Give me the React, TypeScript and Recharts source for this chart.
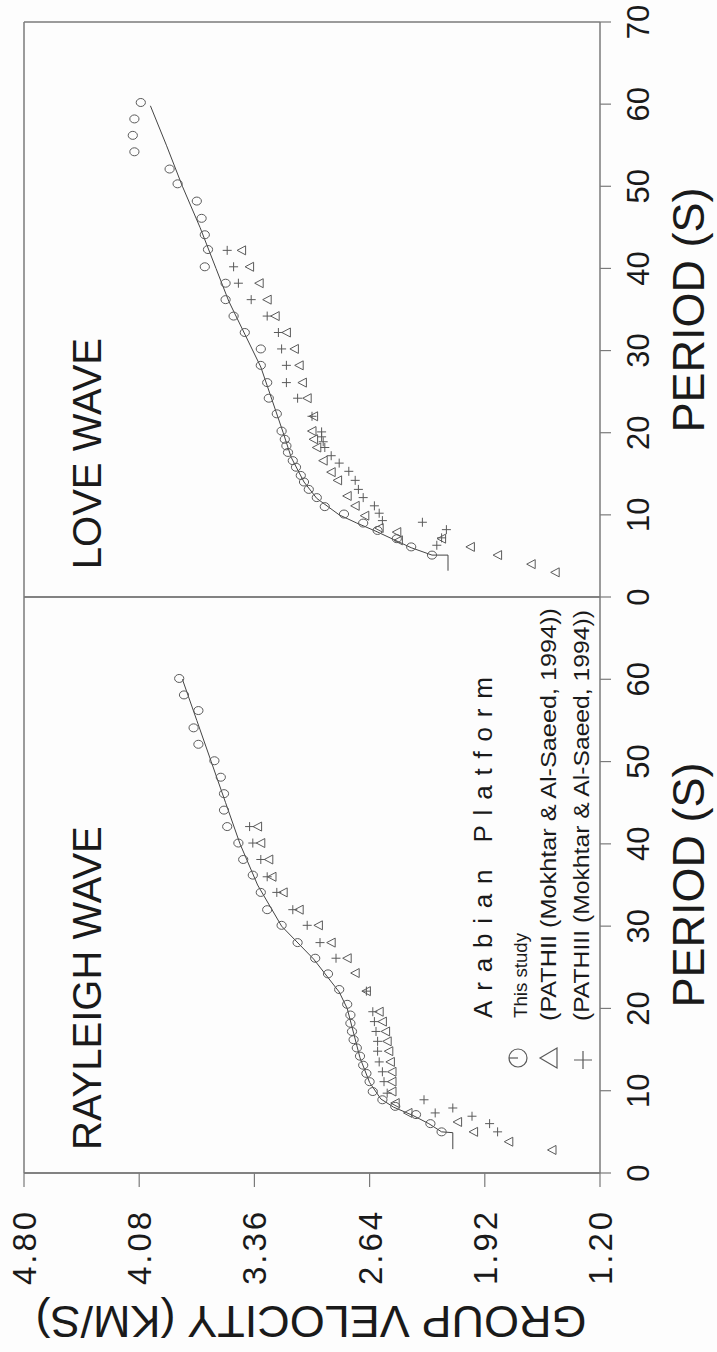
import React from 'react';
import { ScatterChart, Scatter, XAxis, YAxis, ReferenceLine } from 'recharts';

// [period (s), group velocity (km/s)]
const loveStudy: [number, number][] = [
  [60.2, 4.07], [58.2, 4.11], [56.2, 4.12], [54.2, 4.11], [52.1, 3.89], [50.3, 3.84],
  [48.2, 3.72], [46.1, 3.69], [44.1, 3.67], [42.3, 3.65], [40.2, 3.67], [38.2, 3.54],
  [36.2, 3.54], [34.2, 3.49], [32.2, 3.42], [30.2, 3.32], [28.2, 3.32], [26.1, 3.28],
  [24.2, 3.27], [22.3, 3.22], [20.2, 3.19], [19.2, 3.17], [18.4, 3.16], [17.6, 3.15],
  [16.6, 3.12], [15.8, 3.1], [14.8, 3.07], [14.0, 3.05], [13.1, 3.02], [12.1, 2.97],
  [11.0, 2.92], [10.1, 2.8], [9.0, 2.68], [8.1, 2.59], [7.1, 2.47], [6.1, 2.38], [5.1, 2.25],
];
const loveCurve: [number, number][] = [
  [59.8, 4.01], [55, 3.91], [50, 3.81], [45, 3.7], [40, 3.6], [36, 3.52], [32, 3.42],
  [28, 3.32], [24, 3.25], [20, 3.18], [17, 3.13], [14, 3.05], [12, 2.97], [10, 2.83],
  [9, 2.72], [8, 2.6], [7, 2.49], [6, 2.38], [5.1, 2.25], [5.1, 2.15], [3.2, 2.15],
];
const lovePath2: [number, number][] = [
  [42.2, 3.44], [40.2, 3.39], [38.2, 3.33], [36.2, 3.28], [34.2, 3.23], [32.2, 3.16],
  [30.2, 3.11], [28.2, 3.08], [26.1, 3.06], [24.2, 3.03], [22.0, 2.99], [20.2, 3.0],
  [19.2, 2.99], [18.2, 2.97], [16.6, 2.93], [15.2, 2.88], [14.2, 2.84], [12.3, 2.78],
  [11.1, 2.73], [9.9, 2.67], [8.4, 2.58], [7.9, 2.47], [6.9, 2.46], [7.1, 2.19],
  [6.1, 2.01], [5.1, 1.84], [4.0, 1.63], [3.0, 1.48],
];
const lovePath3: [number, number][] = [
  [42.2, 3.53], [40.2, 3.49], [38.2, 3.46], [36.2, 3.38], [34.2, 3.28], [32.2, 3.21],
  [30.2, 3.19], [28.2, 3.16], [26.1, 3.16], [24.2, 3.09], [22.0, 3.0], [20.1, 2.94],
  [19.5, 2.94], [18.9, 2.93], [18.2, 2.92], [17.2, 2.88], [16.3, 2.83], [15.3, 2.77],
  [14.2, 2.73], [13.1, 2.71], [12.1, 2.68], [11.1, 2.61], [10.2, 2.58], [9.3, 2.56],
  [9.1, 2.31], [8.2, 2.16], [7.2, 2.19], [6.3, 2.22],
];

const rayStudy: [number, number][] = [
  [60.1, 3.83], [58.1, 3.8], [56.2, 3.71], [54.1, 3.74], [52.1, 3.71], [50.1, 3.61],
  [48.1, 3.57], [46.1, 3.55], [44.1, 3.55], [42.1, 3.53], [40.1, 3.46], [38.1, 3.43],
  [36.2, 3.37], [34.1, 3.32], [32.0, 3.28], [30.1, 3.19], [28.0, 3.09], [26.1, 2.98],
  [24.2, 2.9], [22.3, 2.83], [20.5, 2.78], [19.2, 2.76], [18.2, 2.76], [17.2, 2.75],
  [16.2, 2.74], [15.2, 2.72], [14.2, 2.7], [13.1, 2.68], [12.1, 2.66], [11.1, 2.64],
  [9.9, 2.62], [8.9, 2.56], [8.1, 2.48], [7.1, 2.35], [6.0, 2.26], [5.0, 2.19],
];
const rayCurve: [number, number][] = [
  [60.0, 3.81], [55, 3.72], [50, 3.63], [45, 3.54], [40, 3.45], [35, 3.34], [30, 3.19],
  [26, 2.99], [22, 2.83], [20, 2.78], [17, 2.74], [14, 2.7], [11, 2.64], [9, 2.57],
  [8, 2.49], [7, 2.37], [6, 2.27], [5, 2.19], [4.9, 2.12], [2.9, 2.12],
];
const rayPath2: [number, number][] = [
  [42.1, 3.34], [40.1, 3.32], [38.1, 3.27], [36.0, 3.25], [34.1, 3.18], [32.0, 3.08],
  [30.1, 2.96], [28.0, 2.88], [26.1, 2.78], [24.3, 2.73], [22.1, 2.66], [19.6, 2.58],
  [18.4, 2.56], [17.2, 2.54], [16.0, 2.53], [14.8, 2.52], [13.5, 2.51], [12.3, 2.5],
  [11.1, 2.5], [9.9, 2.5], [8.5, 2.48], [7.3, 2.4], [6.2, 2.09], [5.0, 1.99],
  [3.8, 1.77], [2.8, 1.5],
];
const rayPath3: [number, number][] = [
  [42.1, 3.39], [40.1, 3.37], [38.1, 3.32], [36.0, 3.28], [34.1, 3.22], [32.0, 3.12],
  [30.1, 3.03], [28.0, 2.95], [26.1, 2.85], [22.1, 2.66], [19.6, 2.62], [18.4, 2.61],
  [17.2, 2.6], [16.0, 2.59], [14.8, 2.59], [13.5, 2.58], [12.3, 2.56], [11.1, 2.55],
  [9.7, 2.53], [8.9, 2.3], [7.9, 2.12], [7.3, 2.23], [6.9, 2.0], [6.0, 1.89], [5.0, 1.84],
];

const velocityTicks = [4.8, 4.08, 3.36, 2.64, 1.92, 1.2];
const lovePeriodTicks = [0, 10, 20, 30, 40, 50, 60, 70];
const rayPeriodTicks = [0, 10, 20, 30, 40, 50, 60];

const FONT = '"Liberation Sans", Arial, Helvetica, sans-serif';
const INK = '#1a1a1a';
const FRAME = '#7a7a7a';
const MARK = '#5a5a5a';

const toPts = (arr: [number, number][]) => arr.map(([p, v]) => ({ p, v }));

function Empty() {
  return <g />;
}

function CircleMark(props: any) {
  const { cx, cy } = props;
  if (cx == null || cy == null) return <g />;
  return <ellipse cx={cx} cy={cy} rx={4.6} ry={4} fill="none" stroke={MARK} strokeWidth={1} />;
}

function TriMark(props: any) {
  const { cx, cy } = props;
  if (cx == null || cy == null) return <g />;
  const pts = `${cx - 4.5},${cy} ${cx + 4},${cy - 4.5} ${cx + 4},${cy + 4.5}`;
  return <polygon points={pts} fill="none" stroke={MARK} strokeWidth={1} />;
}

function PlusMark(props: any) {
  const { cx, cy } = props;
  if (cx == null || cy == null) return <g />;
  return (
    <path
      d={`M${cx - 4.5},${cy}H${cx + 4.5}M${cx},${cy - 4.5}V${cy + 4.5}`}
      stroke={MARK}
      strokeWidth={1}
      fill="none"
    />
  );
}

function PeriodTick(props: any) {
  const { x, y, payload } = props;
  return (
    <text
      transform={`translate(${x + 38},${y}) rotate(-90)`}
      textAnchor="middle"
      fontFamily={FONT}
      fontSize={31}
      fill={INK}
    >
      {payload.value}
    </text>
  );
}

function VelocityTick(props: any) {
  const { x, y, payload } = props;
  return (
    <text
      transform={`translate(${x + 12},${y + 60}) rotate(-90)`}
      textAnchor="middle"
      fontFamily={FONT}
      fontSize={33}
      letterSpacing={3}
      fill={INK}
    >
      {Number(payload.value).toFixed(2)}
    </text>
  );
}

function Panel({
  study,
  curve,
  path2,
  path3,
  periodTicks,
  showVelocity,
  top,
  height,
  marginBottom,
}: {
  study: [number, number][];
  curve: [number, number][];
  path2: [number, number][];
  path3: [number, number][];
  periodTicks: number[];
  showVelocity: boolean;
  top: number;
  height: number;
  marginBottom: number;
}) {
  const frame = { stroke: FRAME, strokeWidth: 1.5 };
  return (
    <ScatterChart
      width={717}
      height={height}
      margin={{ top: 22, right: 0, bottom: marginBottom, left: 24 }}
      style={{ position: 'absolute', left: 0, top }}
    >
      <XAxis
        type="number"
        dataKey="v"
        domain={[1.2, 4.8]}
        reversed
        ticks={velocityTicks}
        interval={0}
        hide={!showVelocity}
        height={179}
        tickSize={14}
        tickMargin={0}
        tick={<VelocityTick />}
        axisLine={frame}
        tickLine={{ stroke: FRAME, strokeWidth: 1.2 }}
      />
      <YAxis
        type="number"
        dataKey="p"
        orientation="right"
        domain={[0, 70]}
        ticks={periodTicks}
        interval={0}
        width={117}
        tickSize={11}
        tickMargin={0}
        tick={<PeriodTick />}
        axisLine={frame}
        tickLine={{ stroke: FRAME, strokeWidth: 1.2 }}
      />
      <ReferenceLine x={4.8} {...frame} />
      <ReferenceLine y={70} {...frame} />
      <ReferenceLine y={0} {...frame} />
      <Scatter
        data={toPts(curve)}
        line={{ stroke: '#444', strokeWidth: 1 }}
        shape={<Empty />}
        isAnimationActive={false}
      />
      <Scatter data={toPts(study)} shape={<CircleMark />} isAnimationActive={false} />
      <Scatter data={toPts(path2)} shape={<TriMark />} isAnimationActive={false} />
      <Scatter data={toPts(path3)} shape={<PlusMark />} isAnimationActive={false} />
    </ScatterChart>
  );
}

export default function App() {
  const txt = { fontFamily: FONT, fill: INK };
  return (
    <div
      style={{
        position: 'absolute',
        left: 0,
        top: 0,
        width: 717,
        height: 1352,
        background: '#fdfdfd',
        overflow: 'hidden',
      }}
    >
      <Panel
        study={loveStudy}
        curve={loveCurve}
        path2={lovePath2}
        path3={lovePath3}
        periodTicks={lovePeriodTicks}
        showVelocity={false}
        top={0}
        height={620}
        marginBottom={23}
      />
      <Panel
        study={rayStudy}
        curve={rayCurve}
        path2={rayPath2}
        path3={rayPath3}
        periodTicks={rayPeriodTicks}
        showVelocity
        top={575}
        height={777}
        marginBottom={0}
      />
      <svg
        width={717}
        height={1352}
        style={{ position: 'absolute', left: 0, top: 0, pointerEvents: 'none' }}
      >
        <text transform="translate(101,338) rotate(-90)" textAnchor="end" fontSize={40} {...txt}>
          LOVE WAVE
        </text>
        <text transform="translate(101,1150) rotate(-90)" textAnchor="start" fontSize={40} {...txt}>
          RAYLEIGH WAVE
        </text>
        <text transform="translate(704,310) rotate(-90)" textAnchor="middle" fontSize={45} {...txt}>
          PERIOD (S)
        </text>
        <text transform="translate(704,885) rotate(-90)" textAnchor="middle" fontSize={45} {...txt}>
          PERIOD (S)
        </text>
        <text transform="translate(311,1306) rotate(180)" textAnchor="middle" fontSize={45} {...txt}>
          GROUP VELOCITY (KM/S)
        </text>

        {/* legend */}
        <text
          transform="translate(492,1018) rotate(-90)"
          fontSize={26}
          textLength={341}
          lengthAdjust="spacing"
          {...txt}
        >
          Arabian Platform
        </text>
        <text
          transform="translate(527,1018) rotate(-90)"
          fontSize={19}
          textLength={85}
          lengthAdjust="spacingAndGlyphs"
          {...txt}
        >
          This study
        </text>
        <text
          transform="translate(556,1021) rotate(-90)"
          fontSize={22}
          textLength={413}
          lengthAdjust="spacingAndGlyphs"
          {...txt}
        >
          (PATHII (Mokhtar &amp; Al-Saeed, 1994))
        </text>
        <text
          transform="translate(589,1021) rotate(-90)"
          fontSize={22}
          textLength={411}
          lengthAdjust="spacingAndGlyphs"
          {...txt}
        >
          (PATHIII (Mokhtar &amp; Al-Saeed, 1994))
        </text>
        <circle cx={518} cy={1058} r={9} fill="none" stroke={MARK} strokeWidth={1.2} />
        <line x1={509} y1={1058} x2={518} y2={1058} stroke={MARK} strokeWidth={1.2} />
        <polygon points="540,1058 557,1048 557,1068" fill="none" stroke={MARK} strokeWidth={1.2} />
        <path d="M574,1060H592M583,1051V1069" stroke={MARK} strokeWidth={1.2} fill="none" />
      </svg>
    </div>
  );
}
